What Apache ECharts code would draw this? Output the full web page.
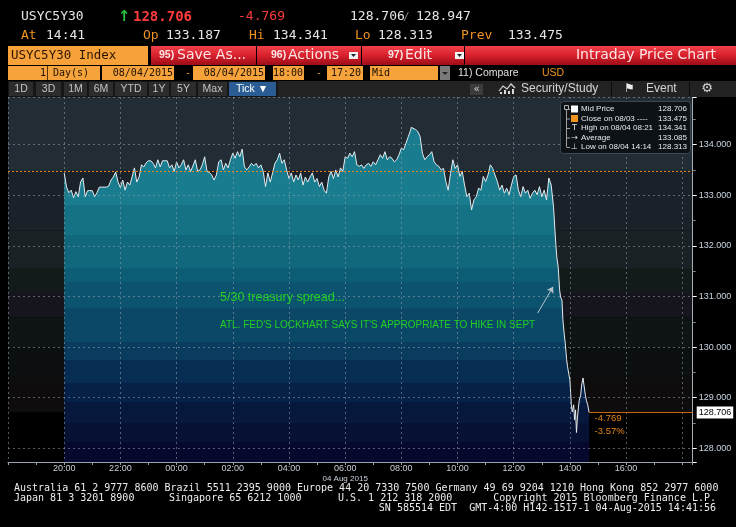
<!DOCTYPE html>
<html><head><meta charset="utf-8">
<script src="https://cdn.jsdelivr.net/npm/echarts@6/dist/echarts.min.js"></script>
<style>html,body{margin:0;padding:0;background:#000}#c{width:736px;height:527px}</style>
</head><body><div id="c"></div><script>
// ---------- DATA ----------
const times = [
"20:00","20:05","20:10","20:15","20:20","20:25","20:30","20:35","20:40","20:45","20:50","20:55",
"21:00","21:05","21:10","21:15","21:20","21:25","21:30","21:35","21:40","21:45","21:50","21:55",
"22:00","22:05","22:10","22:15","22:20","22:25","22:30","22:35","22:40","22:45","22:50","22:55",
"23:00","23:05","23:10","23:15","23:20","23:25","23:30","23:35","23:40","23:45","23:50","23:55",
"00:00","00:05","00:10","00:15","00:20","00:25","00:30","00:35","00:40","00:45","00:50","00:55",
"01:00","01:05","01:10","01:15","01:20","01:25","01:30","01:35","01:40","01:45","01:50","01:55",
"02:00","02:05","02:10","02:15","02:20","02:25","02:30","02:35","02:40","02:45","02:50","02:55",
"03:00","03:05","03:10","03:15","03:20","03:25","03:30","03:35","03:40","03:45","03:50","03:55",
"04:00","04:05","04:10","04:15","04:20","04:25","04:30","04:35","04:40","04:45","04:50","04:55",
"05:00","05:05","05:10","05:15","05:20","05:25","05:30","05:35","05:40","05:45","05:50","05:55",
"06:00","06:05","06:10","06:15","06:20","06:25","06:30","06:35","06:40","06:45","06:50","06:55",
"07:00","07:05","07:10","07:15","07:20","07:25","07:30","07:35","07:40","07:45","07:50","07:55",
"08:00","08:05","08:10","08:15","08:20","08:21","08:25","08:30","08:35","08:40","08:45","08:50","08:55",
"09:00","09:05","09:10","09:15","09:20","09:25","09:30","09:35","09:40","09:45","09:50","09:55",
"10:00","10:05","10:10","10:15","10:20","10:25","10:30","10:35","10:40","10:45","10:50","10:55",
"11:00","11:05","11:10","11:15","11:20","11:25","11:30","11:35","11:40","11:45","11:50","11:55",
"12:00","12:05","12:10","12:15","12:20","12:25","12:30","12:35","12:40","12:45","12:50","12:55",
"13:00","13:05","13:10","13:15","13:20","13:25","13:28","13:30","13:32","13:35","13:38","13:40","13:43","13:45","13:48","13:50","13:53","13:55","13:58",
"14:00","14:03","14:05","14:08","14:10","14:12","14:14","14:16","14:18","14:20","14:23","14:25","14:28","14:30","14:33","14:35","14:38","14:41"
];
const midPrice = [
133.44,133.16,133.05,133.10,132.95,133.07,132.97,133.26,133.34,132.97,133.09,133.09,
133.09,132.97,133.05,133.16,133.16,133.16,133.16,133.18,133.30,133.36,133.46,133.26,
133.15,133.30,133.10,133.26,133.20,133.36,133.54,133.26,133.36,133.60,133.56,133.64,
133.68,133.68,133.63,133.54,133.70,133.56,133.68,133.68,133.68,133.54,133.60,133.47,
133.66,133.54,133.60,133.70,133.50,133.60,133.47,133.58,133.70,133.47,133.50,133.60,
133.76,133.47,133.45,133.40,133.30,133.40,133.66,133.70,133.50,133.63,133.54,133.70,
133.83,133.73,133.86,133.76,133.91,133.56,133.50,133.56,133.63,133.58,133.63,133.54,
133.60,133.47,133.17,133.44,133.26,133.44,133.63,133.70,133.83,133.63,133.70,133.50,
133.33,133.44,133.26,133.40,133.30,133.44,133.20,133.36,133.26,133.36,133.44,133.26,
133.33,133.17,133.26,133.10,133.04,133.36,133.47,133.33,133.50,133.36,133.54,133.47,
133.76,133.73,133.83,133.76,133.86,133.60,133.57,133.60,133.53,133.60,133.63,133.57,
133.66,133.60,133.70,133.80,133.73,133.86,133.70,133.76,133.73,133.66,133.70,133.80,
133.93,133.90,134.03,134.16,134.29,134.341,134.32,134.30,134.26,134.16,133.83,133.70,133.76,
133.80,133.86,133.66,133.60,133.57,133.50,133.53,133.27,133.10,133.43,133.70,133.53,
133.60,133.37,133.47,133.20,132.97,133.04,132.71,132.91,132.97,133.14,133.10,133.37,
133.27,133.40,133.60,133.53,133.40,133.27,133.10,133.20,133.04,133.14,133.01,133.20,
133.37,133.40,133.10,132.97,133.17,133.04,133.10,132.94,133.04,133.10,133.01,133.17,
132.97,133.10,132.91,133.34,133.20,132.77,132.31,132.02,131.78,131.58,131.13,130.99,130.93,130.54,130.24,130.08,129.75,129.61,129.45,
129.35,128.86,128.72,128.86,128.56,128.76,128.313,128.60,128.80,128.95,129.05,129.25,129.39,129.25,129.05,128.95,128.86,128.706
];
const prevClose = 133.475;
const lastPrice = 128.706;
const lastTime = "14:41";
const changeText = ["-4.769", "-3.57%"];
const legendNames = ["Mid Price", "Close on 08/03 ----", "High on 08/04 08:21", "Average", "Low on 08/04 14:14"];
const legendValues = ["128.706", "133.475", "134.341", "133.085", "128.313"];
const xTickLabels = ["20:00","22:00","00:00","02:00","04:00","06:00","08:00","10:00","12:00","14:00","16:00"];
const dateLabel = "04 Aug 2015";
const arrowFrom = ["12:51", 130.67];
const arrowTo = ["13:24", 131.19];
// background band edges (price levels) and colours
const bandEdges = [134.94, 133.475, 132.31, 131.56, 131.09, 130.59, 130.0, 129.41, 128.706, 127.73];
const bandColors = ["#212c35", "#1b2128", "#1a2125", "#131a1a", "#16151e", "#0e1313", "#0b0f0f", "#0e0c0c", "#000000"];

// ---------- HELPERS ----------
const MONO = '"DejaVu Sans Mono", monospace';
const SANS = '"DejaVu Sans", sans-serif';
const LIB = '"Liberation Sans", Arial, sans-serif';
function toHours(s){ const p = s.split(':').map(Number); let v = p[0] + p[1]/60; if (p[0] >= 18) v -= 24; return v; }
const xMin = -6, xMax = 18.37, yMin = 127.73, yMax = 134.94;
const priceData = times.map((t,i) => [toHours(t), midPrice[i]]);
const lastH = toHours(lastTime);

function T(x,y,text,fill,font,align){ return {type:'text', x:x, y:y, z:100, silent:true, style:{text:text, fill:fill, font:font, align:align||'left', verticalAlign:'middle'}}; }
function R(x,y,w,h,fill,stroke,r){ return {type:'rect', z:99, silent:true, shape:{x:x,y:y,width:w,height:h,r:r||0}, style:{fill:fill, stroke:stroke||null, lineWidth:1}}; }
const redGrad = () => new echarts.graphic.LinearGradient(0,0,0,1,[{offset:0,color:'#f0414a'},{offset:0.5,color:'#d8202c'},{offset:1,color:'#9c0d18'}]);

const ORANGE = '#f0921e', WHITE = '#e6e6e6', RED = '#ff3b3b';
const g = [];
// Row 1
g.push(T(21,17,'USYC5Y30',WHITE,'13px '+MONO));
g.push(T(118,17,'\u2191','#27c43f','bold 15px '+SANS));
g.push(T(133,17,'128.706',RED,'bold 14px '+MONO));
g.push(T(238,17,'-4.769',RED,'13px '+MONO));
g.push(T(350,17,'128.706',WHITE,'13px '+MONO));
g.push(T(403,17,'/','#888','11px '+MONO));
g.push(T(416,17,'128.947',WHITE,'13px '+MONO));
// Row 2
[['At',21],['Op',143],['Hi',249],['Lo',355],['Prev',461]].forEach(a=>g.push(T(a[1],36,a[0],ORANGE,'13px '+MONO)));
[['14:41',46],['133.187',166],['134.341',273],['128.313',378],['133.475',508]].forEach(a=>g.push(T(a[1],36,a[0],WHITE,'13px '+MONO)));
// Row 3
g.push(R(8,46,140,19,'#f7a13a'));
g.push(T(11,55.5,'USYC5Y30 Index','#2a1500','12.5px '+MONO));
g.push(R(151,46,105,19,redGrad()));
g.push(R(257,46,104,19,redGrad()));
g.push(R(362,46,102,19,redGrad()));
g.push(R(465,46,271,19,redGrad()));
const BT = '#fbe6e6';
g.push(T(159,55.5,'95)',BT,'bold 10.5px '+LIB));
g.push(T(177,55.5,'Save As...',BT,'14px '+SANS));
g.push(T(271,55.5,'96)',BT,'bold 10.5px '+LIB));
g.push(T(288,55.5,'Actions',BT,'14px '+SANS));
g.push(T(388,55.5,'97)',BT,'bold 10.5px '+LIB));
g.push(T(405,55.5,'Edit',BT,'14px '+SANS));
g.push(T(716,55.5,'Intraday Price Chart',BT,'14px '+SANS,'right'));
[[349,52],[455,52]].forEach(p=>{
  g.push(R(p[0],p[1],9,7,'#f2f2f2'));
  g.push({type:'polygon', z:101, silent:true, shape:{points:[[p[0]+2,p[1]+2],[p[0]+7,p[1]+2],[p[0]+4.5,p[1]+5]]}, style:{fill:'#222'}});
});
// Row 4
const OB = '#f7a33c';
g.push(R(8,66,92,14,OB));
g.push({type:'line', z:100, silent:true, shape:{x1:47.5,y1:66,x2:47.5,y2:80}, style:{stroke:'#5a3000',lineWidth:1}});
g.push(T(46,73,'1','#1a1000','10px '+MONO,'right'));
g.push(T(53,73,'Day(s)','#1a1000','10px '+MONO));
g.push(R(102,66,72,14,OB)); g.push(T(173,73,'08/04/2015','#1a1000','10px '+MONO,'right'));
g.push(T(185,73,'-',ORANGE,'10px '+MONO));
g.push(R(193,66,72,14,OB)); g.push(T(264,73,'08/04/2015','#1a1000','10px '+MONO,'right'));
g.push(R(273,66,31,14,OB)); g.push(T(303,73,'18:00','#1a1000','10px '+MONO,'right'));
g.push(T(316,73,'-',ORANGE,'10px '+MONO));
g.push(R(327,66,36,14,OB)); g.push(T(361,73,'17:20','#1a1000','10px '+MONO,'right'));
g.push(R(370,66,68,14,OB)); g.push(T(372,73,'Mid','#1a1000','10px '+MONO));
g.push(R(440,66,10,14,'#7a7a7a'));
g.push({type:'polygon', z:101, silent:true, shape:{points:[[442,72],[448,72],[445,75]]}, style:{fill:'#222'}});
g.push(T(458,73,'11) Compare','#e0e0e0','10.5px '+LIB));
g.push(T(542,73,'USD',ORANGE,'10.5px '+LIB));
// Row 5 toolbar
g.push(R(8,81,728,16,'#151515'));
g.push(R(278,81,458,16,'#222222'));
const btns = [['1D',9,24],['3D',36,25],['1M',64,23],['6M',89,24],['YTD',115,32],['1Y',149,20],['5Y',171,25],['Max',198,29]];
btns.forEach(b=>{ g.push(R(b[1],82,b[2],14,'#2c2c2c')); g.push(T(b[1]+b[2]/2,89,b[0],'#c4c4c4','10.5px '+LIB,'center')); });
g.push(R(229,82,47,14,'#2a5d93'));
g.push(T(252,89,'Tick \u25BC','#ffffff','10.5px '+LIB,'center'));
g.push(R(470,84,13,11,'#3c3c3c'));
g.push(T(476.5,89.5,'\u00AB','#d0d0d0','10px '+SANS,'center'));
g.push({type:'polyline', z:101, silent:true, shape:{points:[[499,91],[503,86],[507,89],[511,84],[515,88]]}, style:{stroke:'#dcdcdc',lineWidth:1.2,fill:null}});
[[500,2],[504,4],[508,3],[512,5]].forEach(b=>g.push(R(b[0],94-b[1],2,b[1],'#dcdcdc')));
g.push(T(521,89,'Security/Study','#d4d4d4','12px '+LIB));
g.push({type:'line', z:100, silent:true, shape:{x1:611.5,y1:82,x2:611.5,y2:96}, style:{stroke:'#0a0a0a',lineWidth:1}});
g.push(T(624,89,'\u2691','#ececec','12px '+SANS));
g.push(T(646,89,'Event','#d4d4d4','12px '+LIB));
g.push({type:'line', z:100, silent:true, shape:{x1:689.5,y1:82,x2:689.5,y2:96}, style:{stroke:'#0a0a0a',lineWidth:1}});
g.push(T(707,89,'\u2699','#d8d8d8','13px '+SANS,'center'));
// Legend box
g.push(R(560.5,101.5,130,52,'#0c1216','#3b4852',3));
g.push({type:'rect', z:100, silent:true, shape:{x:564.5,y:105.5,width:4,height:4}, style:{fill:null, stroke:'#b0b0b0', lineWidth:1}});
g.push({type:'line', z:100, silent:true, shape:{x1:566.5,y1:110,x2:566.5,y2:147}, style:{stroke:'#a0a0a0',lineWidth:1}});
const ly = [109,118.5,128,137.5,147];
ly.forEach(y=>g.push({type:'line', z:100, silent:true, shape:{x1:566.5,y1:y+0.5,x2:570,y2:y+0.5}, style:{stroke:'#a0a0a0',lineWidth:1}}));
g.push(R(571,105.5,7,7,'#ffffff'));
g.push(R(571,115,7,7,ORANGE));
g.push(T(574.5,128,'T','#e0e0e0','9px '+LIB,'center'));
g.push(T(574.5,137.5,'\u2192','#e0e0e0','8px '+SANS,'center'));
g.push(T(574.5,147,'\u22A5','#e0e0e0','8px '+SANS,'center'));
legendNames.forEach((n,i)=>{ g.push(T(581,ly[i],n,'#e8e8e8','8px '+LIB)); g.push(T(687,ly[i],legendValues[i],'#e8e8e8','8px '+LIB,'right')); });
// annotations
g.push(T(220,298,'5/30 treasury spread...','#22d022','12.5px '+LIB));
g.push(T(220,325,"ATL. FED'S LOCKHART SAYS IT'S APPROPRIATE TO HIKE IN SEPT",'#22d022','10px '+LIB));
// footer
const FT = '10px '+MONO, FC = '#ececec';
g.push(T(14,488,'Australia 61 2 9777 8600 Brazil 5511 2395 9000 Europe 44 20 7330 7500 Germany 49 69 9204 1210 Hong Kong 852 2977 6000',FC,FT));
g.push(T(14,498,'Japan 81 3 3201 8900',FC,FT));
g.push(T(169,498,'Singapore 65 6212 1000',FC,FT));
g.push(T(338,498,'U.S. 1 212 318 2000',FC,FT));
g.push(T(716,498,'Copyright 2015 Bloomberg Finance L.P.',FC,FT,'right'));
g.push(T(716,508,'SN 585514 EDT  GMT-4:00 H142-1517-1 04-Aug-2015 14:41:56',FC,FT,'right'));

// ---------- CHART ----------
const chart = echarts.init(document.getElementById('c'), null, {renderer:'canvas'});
const fillStops = [
 [0,'#1a7d8f'],[0.232,'#1a7d8f'],[0.232,'#157284'],[0.322,'#157284'],[0.322,'#11677c'],[0.42,'#11677c'],
 [0.42,'#0e5d76'],[0.462,'#0e5d76'],[0.462,'#0c5370'],[0.54,'#0c5370'],[0.54,'#0b4868'],[0.642,'#0b4868'],
 [0.642,'#0a3c60'],[0.695,'#0a3c60'],[0.695,'#082d52'],[0.764,'#082d52'],[0.764,'#062147'],[0.821,'#062147'],
 [0.821,'#06183c'],[0.884,'#06183c'],[0.884,'#071134'],[0.941,'#071134'],[0.941,'#06092d'],[1,'#06092d']
].map(s=>({offset:s[0], color:s[1]}));

const bands = bandColors.map((c,i)=>[{yAxis:bandEdges[i], itemStyle:{color:c, opacity:1}},{yAxis:bandEdges[i+1]}]);
const AXF = LIB;

const option = {
  backgroundColor:'#000',
  animation:false,
  grid:{left:8, right:43.3, top:97, bottom:65},
  xAxis:{
    type:'value', min:xMin, max:xMax, interval:2, z:3,
    axisLine:{onZero:false, lineStyle:{color:'#9aa3ab', width:1}},
    axisTick:{show:true, length:3, lineStyle:{color:'#9aa3ab'}},
    minorTick:{show:true, splitNumber:2, length:3, lineStyle:{color:'#9aa3ab'}},
    splitLine:{show:true, lineStyle:{color:'rgba(150,162,175,0.55)', type:[2,3], width:1}},
    axisLabel:{
      color:'#c8d0da', fontFamily:AXF, fontSize:9, margin:1, lineHeight:11,
      showMinLabel:false, showMaxLabel:false,
      formatter:function(v){
        const idx = Math.round((v + 4)/2);
        if (idx < 0 || idx >= xTickLabels.length) return '';
        const s = xTickLabels[idx];
        return s === '06:00' ? s + '\n{d|' + dateLabel + '}' : s;
      },
      rich:{d:{color:'#c8d0da', fontFamily:AXF, fontSize:8, lineHeight:10}}
    }
  },
  yAxis:{
    type:'value', position:'right', min:yMin, max:yMax, splitNumber:7, z:3, scale:true,
    axisLine:{show:true, onZero:false, lineStyle:{color:'#a6adb4', width:1}},
    axisTick:{show:true, length:4, lineStyle:{color:'#ffffff'}},
    minorTick:{show:true, splitNumber:2, length:3, lineStyle:{color:'#7d8790'}},
    splitLine:{show:true, lineStyle:{color:'rgba(150,162,175,0.55)', type:[2,3], width:1}},
    axisLabel:{color:'#cad6e2', fontFamily:AXF, fontSize:9, margin:6, showMinLabel:false, showMaxLabel:false,
      formatter:v=>v.toFixed(3)}
  },
  series:[
    {type:'line', name:'bands', z:1, silent:true, data:[], symbol:'none',
     markArea:{silent:true, z:1, data:bands}},
    {type:'line', name:'Mid Price', z:2, data:priceData, symbol:'none', showSymbol:false,
     lineStyle:{color:'#e4ebf0', width:1},
     areaStyle:{origin:'start', opacity:1, color:new echarts.graphic.LinearGradient(0,0,0,1,fillStops)}},
    {type:'line', name:'overlay', z:4, data:[], symbol:'none',
     markLine:{silent:true, z:4, symbol:'none', animation:false,
       data:[
         {yAxis:prevClose, lineStyle:{color:'#e8861a', type:[2,2], width:1}, label:{show:false}},
         [{coord:[lastH,lastPrice], lineStyle:{color:'#c8660f', type:'solid', width:1},
           label:{show:true, position:'end', distance:4, formatter:lastPrice.toFixed(3), color:'#000', backgroundColor:'#ffffff',
                  padding:[2,2,1,2], fontFamily:AXF, fontSize:9}},
          {coord:[xMax,lastPrice]}],
         [{coord:[toHours(arrowFrom[0]),arrowFrom[1]], symbol:'none', lineStyle:{color:'#b9c4cc', type:'solid', width:1}, label:{show:false}},
          {coord:[toHours(arrowTo[0]),arrowTo[1]], symbol:'arrow', symbolSize:6}]
       ]},
     markPoint:{silent:true, z:4, symbol:'circle', symbolSize:1, itemStyle:{color:'rgba(0,0,0,0)'},
       data:[{coord:[lastH,lastPrice],
         label:{show:true, position:'right', distance:5, formatter:changeText.join('\n'), color:'#e8861a',
                fontFamily:AXF, fontSize:9.5, lineHeight:13, verticalAlign:'top', offset:[0,-1]}}]}
    }
  ],
  graphic:{elements:g}
};
chart.setOption(option);
</script></body></html>
